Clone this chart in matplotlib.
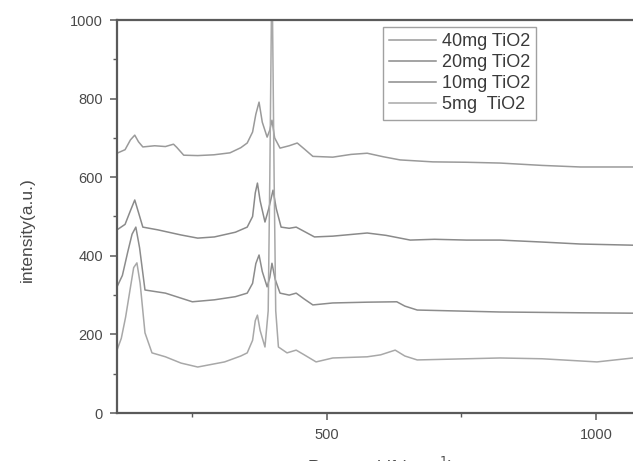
import matplotlib
matplotlib.use("Agg")
import matplotlib.pyplot as plt
from matplotlib.ticker import MultipleLocator

plt.rcParams["font.family"] = ["Liberation Sans", "DejaVu Sans"]

# Raman spectra, shift in cm^-1, intensity in a.u.
shift_40 = [110, 125, 135, 143, 150, 158, 180, 200, 215, 221, 234, 260, 290, 320, 340,
            352, 362, 368, 374, 380, 389, 394, 398, 403, 413, 430, 445, 458, 474, 511,
            545, 575, 605, 636, 697, 760, 822, 900, 971, 1069]
int_40 = [661, 670, 695, 707, 690, 677, 680, 678, 684, 676, 656, 655, 657, 662, 675,
          687, 715, 760, 791, 740, 702, 720, 745, 700, 674, 680, 687, 672, 653, 651,
          658, 661, 652, 644, 639, 638, 636, 630, 626, 626]

shift_20 = [110, 125, 135, 143, 150, 158, 186, 229, 260, 291, 330, 352, 362, 367, 371,
            376, 385, 392, 400, 406, 415, 430, 443, 458, 477, 511, 575, 610, 655, 700,
            760, 822, 900, 971, 1069]
int_20 = [466, 480, 515, 542, 510, 473, 466, 453, 445, 448, 460, 473, 500, 560, 585,
          540, 486, 520, 567, 520, 473, 470, 473, 462, 448, 450, 458, 452, 440, 442,
          440, 440, 435, 430, 427]

shift_10 = [110, 120, 130, 138, 145, 152, 162, 200, 250, 291, 330, 352, 362, 368, 374,
            380, 389, 394, 398, 404, 413, 430, 443, 458, 474, 511, 575, 630, 645, 668,
            729, 822, 900, 971, 1069]
int_10 = [321, 350, 410, 455, 473, 420, 313, 305, 283, 288, 296, 305, 330, 380, 402,
          360, 321, 345, 381, 340, 305, 300, 305, 290, 275, 280, 282, 283, 272, 262,
          260, 257, 256, 255, 254]

shift_5 = [110, 118, 126, 135, 141, 147, 153, 162, 175, 200, 229, 260, 310, 340, 352,
           362, 367, 371, 376, 385, 391, 394, 398, 402, 405, 410, 426, 443, 458, 480,
           511, 575, 600, 627, 645, 668, 729, 822, 900, 1002, 1069]
int_5 = [160, 190, 244, 320, 370, 382, 330, 204, 153, 143, 127, 117, 130, 145, 153,
         185, 235, 249, 210, 168, 260, 600, 1150, 600, 260, 168, 153, 160, 148, 130,
         140, 143, 148, 160, 145, 135, 137, 140, 138, 130, 140]

labels = ["40mg TiO2", "20mg TiO2", "10mg TiO2", "5mg  TiO2"]
colors = ["#9a9a9a", "#8a8a8a", "#8c8c8c", "#a8a8a8"]

W, H = 633, 461
fig = plt.figure(figsize=(W / 100, H / 100), dpi=100)
ax = fig.add_axes([117 / W, (H - 413) / H, 1 - 117 / W, (413 - 20) / H])

series = [(shift_40, int_40), (shift_20, int_20), (shift_10, int_10), (shift_5, int_5)]
for (x, y), lab, c in zip(series, labels, colors):
    ax.plot(x, y, color=c, lw=1.1, label=lab)

ax.set_xlim(110, 1069)
ax.set_ylim(0, 1000)
ax.xaxis.set_major_locator(MultipleLocator(500))
ax.xaxis.set_minor_locator(MultipleLocator(250))
ax.yaxis.set_major_locator(MultipleLocator(200))
ax.yaxis.set_minor_locator(MultipleLocator(100))

spine_c = "#5a5a5a"
for side in ("left", "bottom", "top"):
    ax.spines[side].set_color(spine_c)
    ax.spines[side].set_linewidth(1.6)
ax.spines["right"].set_visible(False)

ax.tick_params(which="major", direction="out", length=5, width=1.1, color=spine_c,
               labelcolor="#4a4a4a", labelsize=10.5, pad=5)
ax.tick_params(which="minor", direction="out", length=3, width=1.0, color=spine_c)
ax.tick_params(axis="x", labelsize=10.5, pad=6)
ax.tick_params(top=False, right=False, which="both")

ax.set_ylabel("intensity(a.u.)", fontsize=12.5, color="#4a4a4a")
ax.yaxis.set_label_coords(35 / W, 1 - 230 / H, transform=fig.transFigure)
ax.set_xlabel("Raman shift(cm$^{-1}$)", fontsize=12.5, color="#4a4a4a")
ax.xaxis.set_label_coords(380 / W, 1 - 455 / H, transform=fig.transFigure)

leg = ax.legend(loc="upper left", bbox_to_anchor=(383 / W, 1 - 27 / H),
                bbox_transform=fig.transFigure, fontsize=13, frameon=True,
                fancybox=False, edgecolor="#8a8a8a", handlelength=2.6,
                handletextpad=0.3, labelspacing=0.22, borderpad=0.35,
                borderaxespad=0)
leg.get_frame().set_linewidth(1.0)
for t in leg.get_texts():
    t.set_color("#3a3a3a")

fig.savefig("out.png", dpi=100)
